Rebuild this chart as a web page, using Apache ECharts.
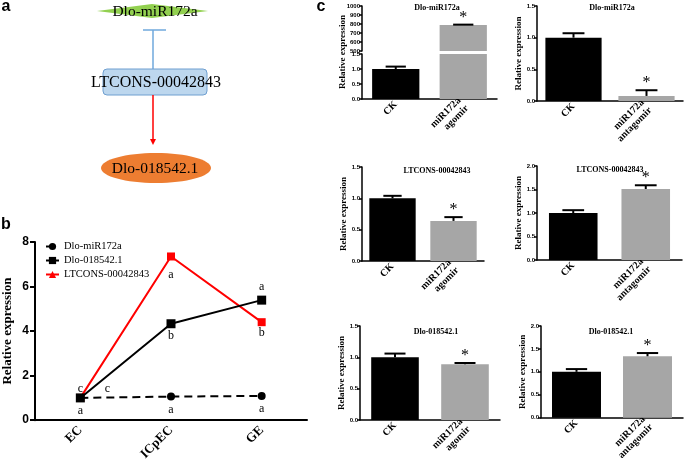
<!DOCTYPE html>
<html>
<head>
<meta charset="utf-8">
<script src="https://cdn.jsdelivr.net/npm/echarts@6/dist/echarts.min.js"></script>
<style>
  html, body { margin: 0; padding: 0; background: #fff; }
  #chart { width: 685px; height: 463px; }
</style>
</head>
<body>
<div id="chart"></div>
<script>
// panel b: expression over the three stages
const stages = ['EC', 'ICpEC', 'GE'];
const mirValues = [1.0, 1.06, 1.09];
const dloValues = [1.0, 4.33, 5.39];
const ltconsValues = [1.0, 7.35, 4.4];
const mirLetters = ['a', 'a', 'a'];
const dloLetters = ['c', 'b', 'a'];
const ltconsLetters = ['c', 'a', 'b'];

// panel c: CK vs agomir / antagomir (mean and top of error bar)
const agoGroups = ['CK', 'miR172a\nagomir'];
const antaGroups = ['CK', 'miR172a\nantagomir'];
const starred = [false, true];
const mirAgoMean = [1.0, 790];
const mirAgoUpper = [1.08, 793];
const mirAntaMean = [1.0, 0.08];
const mirAntaUpper = [1.07, 0.17];
const ltAgoMean = [1.0, 0.64];
const ltAgoUpper = [1.04, 0.70];
const ltAntaMean = [1.0, 1.51];
const ltAntaUpper = [1.06, 1.59];
const dloAgoMean = [1.0, 0.89];
const dloAgoUpper = [1.06, 0.91];
const dloAntaMean = [1.0, 1.34];
const dloAntaUpper = [1.06, 1.41];

// label offsets for the letters in b (style only)
const mirLetterOffset = [[0, 13], [0, 13], [0, 13]];
const dloLetterOffset = [[27, -9], [0, 12], [0, -13]];
const ltLetterOffset = [[0, -9], [0, 18], [0, 11]];

const serif = '"Liberation Serif", "Times New Roman", serif';
const sans = '"Liberation Sans", Arial, sans-serif';
const barColors = ['#000000', '#a6a6a6'];

const chart = echarts.init(document.getElementById('chart'));

const grids = [
  { left: 35, top: 242, width: 272, height: 181 },   // b
  { left: 362, top: 6, width: 135, height: 45 },     // c1 upper part
  { left: 362, top: 54, width: 135, height: 45 },    // c1 lower part
  { left: 537, top: 6, width: 146, height: 95 },     // c2
  { left: 362, top: 167, width: 122, height: 94 },   // c3
  { left: 537, top: 166, width: 145, height: 94 },   // c4
  { left: 360, top: 326, width: 140, height: 94 },   // c5
  { left: 541, top: 326, width: 142, height: 93 }    // c6
];

const xAxes = [];
const yAxes = [];
const series = [];

// ---- panel b ----
xAxes.push({
  gridIndex: 0, type: 'category', data: stages,
  axisLine: { lineStyle: { color: '#000', width: 2 } },
  axisTick: { alignWithLabel: true, length: 5, lineStyle: { width: 2 } },
  axisLabel: { rotate: 45, margin: 8, color: '#000', fontFamily: serif, fontWeight: 'bold', fontSize: 13 }
});
yAxes.push({
  gridIndex: 0, type: 'value', min: 0, max: 8, interval: 2,
  name: 'Relative expression', nameLocation: 'middle', nameGap: 21,
  nameTextStyle: { fontFamily: serif, fontWeight: 'bold', fontSize: 13, color: '#000' },
  splitLine: { show: false },
  axisLine: { show: true, lineStyle: { color: '#000', width: 2 } },
  axisTick: { show: true, length: 5, lineStyle: { width: 2 } },
  axisLabel: { margin: 6, color: '#000', fontFamily: sans, fontWeight: 'bold', fontSize: 12 }
});

function lettered(values, letters, offsets, symbol) {
  return values.map((v, i) => ({
    value: v,
    symbol: symbol,
    label: { show: true, position: 'inside', offset: offsets[i], formatter: letters[i] }
  }));
}
const letterStyle = { color: '#000', fontFamily: serif, fontSize: 12 };

series.push({
  name: 'LTCONS-00042843', type: 'line', xAxisIndex: 0, yAxisIndex: 0,
  data: lettered(ltconsValues, ltconsLetters, ltLetterOffset, 'rect'),
  symbol: 'triangle', symbolSize: 8,
  lineStyle: { color: '#ff0000', width: 2 }, itemStyle: { color: '#ff0000' },
  label: letterStyle, z: 2
});
series.push({
  name: 'Dlo-miR172a', type: 'line', xAxisIndex: 0, yAxisIndex: 0,
  data: lettered(mirValues, mirLetters, mirLetterOffset, 'circle'),
  symbol: 'circle', symbolSize: 8,
  lineStyle: { color: '#000', width: 2, type: [8, 5] }, itemStyle: { color: '#000' },
  label: letterStyle, z: 3
});
series.push({
  name: 'Dlo-018542.1', type: 'line', xAxisIndex: 0, yAxisIndex: 0,
  data: lettered(dloValues, dloLetters, dloLetterOffset, 'rect'),
  symbol: 'rect', symbolSize: 9,
  lineStyle: { color: '#000', width: 2 }, itemStyle: { color: '#000' },
  label: letterStyle, z: 4
});

// ---- panel c helpers ----
function catAxis(g, cats, show) {
  return {
    gridIndex: g, type: 'category', data: cats, show: show,
    axisLine: { lineStyle: { color: '#000', width: 1.5 } },
    axisTick: { show: false },
    axisLabel: { interval: 0, rotate: 45, margin: 4, color: '#000', fontFamily: serif, fontWeight: 'bold', fontSize: 10, lineHeight: 11 }
  };
}
function valAxis(g, min, max, step, name, gap, digits) {
  return {
    gridIndex: g, type: 'value', min: min, max: max, interval: step,
    name: name, nameLocation: 'middle', nameGap: gap,
    nameTextStyle: { fontFamily: serif, fontWeight: 'bold', fontSize: 9, color: '#000' },
    splitLine: { show: false },
    axisLine: { show: true, lineStyle: { color: '#000', width: 1.5 } },
    axisTick: { show: true, length: 3, lineStyle: { width: 1.5 } },
    axisLabel: { margin: 2, color: '#000', fontFamily: sans, fontWeight: 'bold', fontSize: 6,
      formatter: v => v.toFixed(digits) }
  };
}
function bars(g, values, width) {
  return {
    type: 'bar', xAxisIndex: g, yAxisIndex: g, barWidth: width, silent: true,
    data: values, itemStyle: { color: p => barColors[p.dataIndex] }
  };
}
function errorBars(g, mean, upper, keep) {
  const data = [];
  mean.forEach((m, i) => { if (keep(m)) data.push([i, m, upper[i], starred[i] ? 1 : 0]); });
  return {
    type: 'custom', xAxisIndex: g, yAxisIndex: g, silent: true, z: 5, data: data,
    renderItem(params, api) {
      const base = api.coord([api.value(0), api.value(1)]);
      const top = api.coord([api.value(0), api.value(2)]);
      const half = api.size([1, 0])[0] * 0.15;
      const st = { stroke: '#000', lineWidth: 2 };
      const kids = [
        { type: 'line', shape: { x1: base[0], y1: base[1], x2: top[0], y2: top[1] }, style: st },
        { type: 'line', shape: { x1: top[0] - half, y1: top[1], x2: top[0] + half, y2: top[1] }, style: st }
      ];
      if (api.value(3)) {
        kids.push({ type: 'text', x: top[0], y: top[1] - 7,
          style: { text: '*', fill: '#000', font: '16px ' + serif, align: 'center', verticalAlign: 'middle' } });
      }
      return { type: 'group', children: kids };
    }
  };
}
function panel(g, cats, mean, upper, max, name, gap, width) {
  xAxes.push(catAxis(g, cats, true));
  yAxes.push(valAxis(g, 0, max, 0.5, name, gap, 1));
  series.push(bars(g, mean, width));
  series.push(errorBars(g, mean, upper, () => true));
}

// c1: broken axis, two stacked grids
const breakAt = 500;
xAxes.push(catAxis(1, agoGroups, false));
yAxes.push(valAxis(1, 500, 1000, 100, '', 0, 0));
series.push(bars(1, mirAgoMean.map(v => (v >= breakAt ? v : '-')), '70%'));
series.push(errorBars(1, mirAgoMean, mirAgoUpper, m => m >= breakAt));
xAxes.push(catAxis(2, agoGroups, true));
yAxes.push(valAxis(2, 0, 1.5, 0.5, '', 0, 1));
series.push(bars(2, mirAgoMean, '70%'));
series.push(errorBars(2, mirAgoMean, mirAgoUpper, m => m < breakAt));

panel(3, antaGroups, mirAntaMean, mirAntaUpper, 1.5, 'Relative expression', 10, '77%');
panel(4, agoGroups, ltAgoMean, ltAgoUpper, 1.5, 'Relative expression', 14, '76%');
panel(5, antaGroups, ltAntaMean, ltAntaUpper, 2, 'Relative expression', 10, '67%');
panel(6, agoGroups, dloAgoMean, dloAgoUpper, 1.5, 'Relative expression', 12, '68%');
panel(7, antaGroups, dloAntaMean, dloAntaUpper, 2, 'Relative expression', 13, '69%');

function txt(x, y, text, font, extra) {
  return Object.assign({ type: 'text', x: x, y: y,
    style: { text: text, font: font, fill: '#000', align: 'center', verticalAlign: 'middle' } }, extra || {});
}

const graphics = [
  // panel letters
  txt(6, 7, 'a', 'bold 16px ' + sans),
  txt(6, 225, 'b', 'bold 16px ' + sans),
  txt(321, 7, 'c', 'bold 16px ' + sans),
  // panel a diagram
  { type: 'polygon', shape: { points: [[97, 11], [152, 4], [208, 11], [152, 18]] }, style: { fill: '#92d050' } },
  txt(155, 12, 'Dlo-miR172a', '15.5px ' + serif),
  { type: 'line', shape: { x1: 143, y1: 30, x2: 166, y2: 30 }, style: { stroke: '#6fa8dc', lineWidth: 1.5 } },
  { type: 'line', shape: { x1: 153, y1: 30, x2: 153, y2: 69 }, style: { stroke: '#6fa8dc', lineWidth: 1.5 } },
  { type: 'rect', shape: { x: 103, y: 69, width: 104, height: 26, r: 4 }, style: { fill: '#bdd7ee', stroke: '#6f9fd0', lineWidth: 1 } },
  txt(156, 83, 'LTCONS-00042843', '16px ' + serif),
  { type: 'line', shape: { x1: 153, y1: 95, x2: 153, y2: 140 }, style: { stroke: '#ff0000', lineWidth: 1.5 } },
  { type: 'polygon', shape: { points: [[150, 139], [156, 139], [153, 145]] }, style: { fill: '#ff0000' } },
  { type: 'ellipse', shape: { cx: 156, cy: 168, rx: 55, ry: 15 }, style: { fill: '#ed7d31' } },
  txt(155, 169, 'Dlo-018542.1', '15.5px ' + serif),
  // c panel titles
  txt(437, 8, 'Dlo-miR172a', 'bold 8px ' + serif),
  txt(612, 8, 'Dlo-miR172a', 'bold 8px ' + serif),
  txt(437, 171, 'LTCONS-00042843', 'bold 8px ' + serif),
  txt(610, 170, 'LTCONS-00042843', 'bold 8px ' + serif),
  txt(436, 332, 'Dlo-018542.1', 'bold 8px ' + serif),
  txt(611, 332, 'Dlo-018542.1', 'bold 8px ' + serif),
  // y title spanning both parts of the broken axis
  txt(343, 52, 'Relative expression', 'bold 9px ' + serif, { rotation: Math.PI / 2 })
];

chart.setOption({
  animation: false,
  backgroundColor: '#fff',
  grid: grids,
  xAxis: xAxes,
  yAxis: yAxes,
  legend: {
    left: 40, top: 236, orient: 'vertical', itemWidth: 13, itemHeight: 9, itemGap: 3,
    textStyle: { fontFamily: serif, fontSize: 10.5, color: '#000' },
    data: ['Dlo-miR172a', 'Dlo-018542.1', 'LTCONS-00042843']
  },
  graphic: graphics,
  series: series
});
</script>
</body>
</html>
